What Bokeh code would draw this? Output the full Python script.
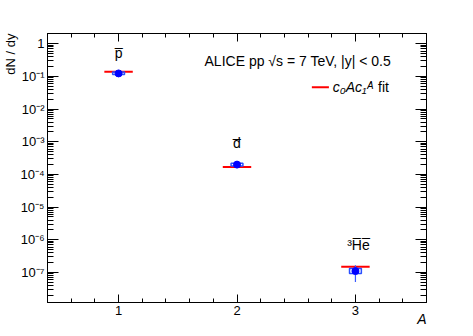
import numpy as np
from bokeh.plotting import figure
from bokeh.models import (Range1d, FixedTicker, LinearAxis, LogAxis, Label, Title,
                          CustomJSTickFormatter)
from bokeh.embed import file_html
from bokeh.resources import INLINE

# ---- data ----
mass_number = [1, 2, 3]
particle_labels = ["p\u0305", "d\u0305", "\u00b3H\u0305e\u0305"]
yield_dndy = [0.124, 2.0e-4, 1.1e-7]
stat_low = [0.123, 1.97e-4, 5.1e-8]
stat_high = [0.125, 2.03e-4, 1.66e-7]
sys_low = [0.114, 1.82e-4, 9.3e-8]
sys_high = [0.136, 2.22e-4, 1.32e-7]
fit_values = [0.14, 1.7e-4, 1.5e-7]
label_heights = [0.54, 8.9e-4, 6.8e-7]
y_decades = [-7, -6, -5, -4, -3, -2, -1, 0]

FONT = "Liberation Sans"

p = figure(width=465, height=328, y_axis_type="log",
           x_range=Range1d(0.4, 3.6), y_range=Range1d(1.2e-8, 2.07),
           output_backend="svg", toolbar_location=None,
           min_border_left=47, min_border_right=39,
           min_border_top=33, min_border_bottom=26)
p.background_fill_color = "white"
p.border_fill_color = "white"
p.outline_line_color = "black"
p.grid.visible = False

# ticks
x_minor = [round(v, 2) for v in np.arange(0.4, 3.61, 0.2)]
x_ticker = FixedTicker(ticks=mass_number, minor_ticks=x_minor)
y_major = [10.0 ** d for d in y_decades]
y_minor = [k * 10.0 ** d for d in range(-9, 1) for k in range(1, 10)]
y_ticker = FixedTicker(ticks=y_major, minor_ticks=y_minor)

ylab = CustomJSTickFormatter(code="""
const e = Math.round(Math.log10(tick));
if (e === 0) return "1";
const sup = {"-":"\u207b","0":"\u2070","1":"\u00b9","2":"\u00b2","3":"\u00b3","4":"\u2074","5":"\u2075","6":"\u2076","7":"\u2077","8":"\u2078","9":"\u2079"};
return "10" + String(e).split("").map(c => sup[c]).join("");
""")

def style(ax, major_in, minor_in):
    ax.axis_line_color = "black"
    ax.major_tick_line_color = "black"
    ax.minor_tick_line_color = "black"
    ax.major_tick_in = major_in
    ax.major_tick_out = 0
    ax.minor_tick_in = minor_in
    ax.minor_tick_out = 0
    ax.major_label_text_font = FONT
    ax.major_label_text_font_size = "13px"
    ax.major_label_text_color = "black"

xa = p.xaxis[0]
xa.ticker = x_ticker
style(xa, 8, 4)
xa.major_label_standoff = 3

ya = p.yaxis[0]
ya.ticker = y_ticker
ya.formatter = ylab
style(ya, 11, 6)
ya.major_label_standoff = 3

top = LinearAxis(ticker=x_ticker)
style(top, 8, 4)
top.major_label_text_color = None
p.add_layout(top, "above")

right = LogAxis(ticker=y_ticker)
style(right, 11, 6)
right.formatter = ylab
right.major_label_text_color = None
p.add_layout(right, "right")

# axis titles as side titles (rendered outside the frame)
p.add_layout(Title(text="dN / dy", align="right", text_font=FONT, text_font_size="13px",
                   text_font_style="normal", text_color="black", standoff=0), "left")
p.add_layout(Title(text="A", align="right", text_font=FONT, text_font_size="14px",
                   text_font_style="italic", text_color="black", standoff=-17), "below")

# fit lines
fit_half = 0.12
p.segment(x0=[a - fit_half for a in mass_number], x1=[a + fit_half for a in mass_number],
          y0=fit_values, y1=fit_values, line_color="#ff0000", line_width=2)

# systematic boxes
box_half = 0.05
p.quad(left=[a - box_half for a in mass_number], right=[a + box_half for a in mass_number],
       bottom=sys_low, top=sys_high, fill_color=None, line_color="#2b50ff", line_width=1.5)

# stat errors
p.segment(x0=mass_number, x1=mass_number, y0=stat_low, y1=stat_high,
          line_color="#3a5cff", line_width=1.2)

# points
p.scatter(mass_number, yield_dndy, size=7, marker="circle",
          fill_color="#0000ff", line_color="#0000ff")

# particle labels
for a, h, t in zip(mass_number, label_heights, particle_labels):
    p.add_layout(Label(x=a, y=h, text=t, text_align="center", text_baseline="middle",
                       x_offset=3 if a == 3 else 0,
                       text_font=FONT, text_font_size="14px", text_color="black"))

# header text
p.add_layout(Label(x=3.3, y=0.294, text="ALICE pp \u221as = 7 TeV, |y| < 0.5",
                   text_align="right", text_baseline="middle",
                   text_font=FONT, text_font_size="14px", text_color="black"))

# legend entry
p.segment(x0=[2.632], x1=[2.776], y0=[0.0471], y1=[0.0471],
          line_color="#ff0000", line_width=2)
p.add_layout(Label(x=2.809, y=0.0471, text="c\u2080Ac\u2081\u1d2c",
                   text_align="left", text_baseline="middle",
                   text_font=FONT, text_font_size="14px", text_font_style="italic",
                   text_color="black"))
p.add_layout(Label(x=3.283, y=0.0471, text="fit",
                   text_align="right", text_baseline="middle",
                   text_font=FONT, text_font_size="14px", text_color="black"))

open("out.html", "w").write(file_html(p, INLINE))
